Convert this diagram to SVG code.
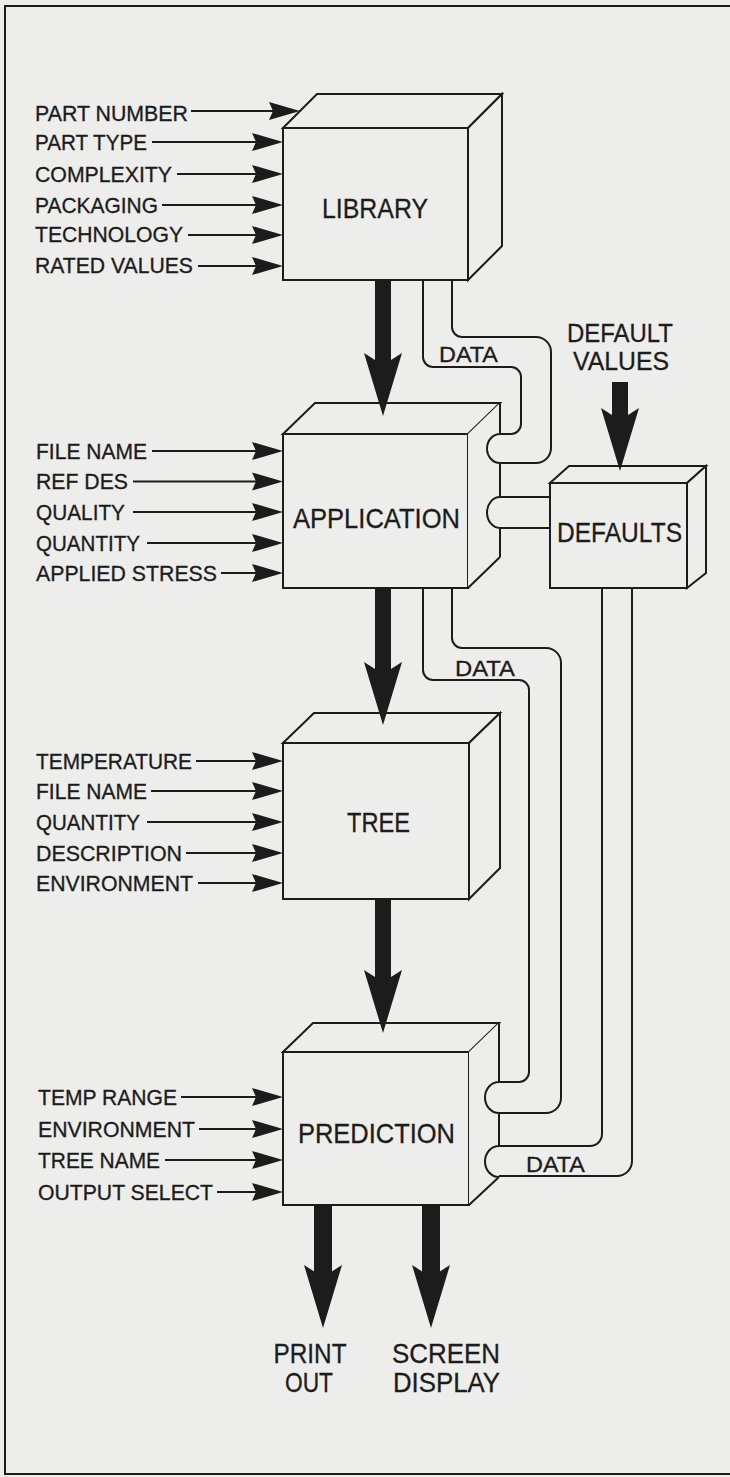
<svg xmlns="http://www.w3.org/2000/svg" xmlns:xlink="http://www.w3.org/1999/xlink" width="730" height="1477" viewBox="0 0 730 1477">
<style>
.bg{fill:#ededeb}
.face{fill:#ededeb;stroke:#1c1c1c;stroke-width:2;stroke-linejoin:miter}
.fill{fill:#ededeb;stroke:none}
.edge{fill:none;stroke:#1c1c1c;stroke-width:2}
.in{fill:none;stroke:#1c1c1c;stroke-width:1.8;marker-end:url(#ah)}
.pipe{fill:none;stroke:#1c1c1c;stroke-width:2}
.lbl{font-family:"Liberation Sans",Arial,sans-serif;font-size:21.2px;fill:#1c1c1c;stroke:#1c1c1c;stroke-width:0.3}
.big{font-family:"Liberation Sans",Arial,sans-serif;font-size:28px;fill:#1c1c1c;text-anchor:middle;stroke:#1c1c1c;stroke-width:0.3}
.two{font-size:26px}
.data{font-family:"Liberation Sans",Arial,sans-serif;font-size:22px;fill:#1c1c1c;stroke:#1c1c1c;stroke-width:0.3}
.thick{fill:#1c1c1c}
</style>
<defs>
<marker id="ah" markerUnits="userSpaceOnUse" viewBox="-32 -10 33 20" markerWidth="33" markerHeight="20" refX="-8" refY="0" orient="auto" overflow="visible">
<path d="M0,0 L-31,-9 L-27,0 L-31,9 Z" fill="#1c1c1c"/>
</marker>
<path id="bh" d="M-19,0 L-8,7 L8,7 L19,0 L0,63 Z"/>
</defs>
<rect class="bg" x="0" y="0" width="730" height="1477"/>
<path class="edge" d="M730,6 H5 V1474 H730"/>

<g id="node-library">
<rect class="face" x="283" y="128" width="185" height="152"/>
<polygon class="face" points="283,128 317,94 502,94 468,128"/>
<polygon class="face" points="468,128 502,94 502,246 468,280"/>
<text class="big" x="375" y="218" textLength="106" lengthAdjust="spacingAndGlyphs">LIBRARY</text>
</g>

<g id="node-application">
<rect class="face" x="283" y="434" width="185" height="154"/>
<polygon class="face" points="283,434 315,403 500,403 468,434"/>
<polygon class="fill" points="468,434 500,403 500,557 468,588"/>
<path class="edge" d="M468,588 L500,557 M500,403 V434 A13,14.5 0 0 0 500,463 V497 A13,15.5 0 0 0 500,528 V557"/>
<text class="big" x="376.5" y="528" textLength="167" lengthAdjust="spacingAndGlyphs">APPLICATION</text>
</g>

<g id="node-tree">
<rect class="face" x="283" y="743" width="186" height="156"/>
<polygon class="face" points="283,743 314,713 500,713 469,743"/>
<polygon class="face" points="469,743 500,713 500,868 469,899"/>
<text class="big" x="378.5" y="832" textLength="63" lengthAdjust="spacingAndGlyphs">TREE</text>
</g>

<g id="node-prediction">
<rect class="face" x="283" y="1052" width="186" height="153"/>
<polygon class="face" points="283,1052 313,1023 499,1023 469,1052"/>
<polygon class="fill" points="469,1052 499,1023 499,1177 469,1205"/>
<path class="edge" d="M469,1205 L499,1177 M499,1023 V1082 A14,15.5 0 0 0 499,1113 V1146 A14,15.5 0 0 0 499,1177"/>
<text class="big" x="376.5" y="1143" textLength="157" lengthAdjust="spacingAndGlyphs">PREDICTION</text>
</g>

<g id="node-defaults">
<rect class="face" x="550" y="483" width="137" height="105"/>
<polygon class="face" points="550,483 569,466 706,466 687,483"/>
<polygon class="face" points="687,483 706,466 706,573 687,588"/>
<text class="big" x="619.5" y="542" textLength="125" lengthAdjust="spacingAndGlyphs">DEFAULTS</text>
</g>

<g id="labels">
<text class="big two" x="620" y="342" textLength="106" lengthAdjust="spacingAndGlyphs">DEFAULT</text>
<text class="big two" x="621" y="370" textLength="96" lengthAdjust="spacingAndGlyphs">VALUES</text>
<text class="big" x="310" y="1363" textLength="73" lengthAdjust="spacingAndGlyphs">PRINT</text>
<text class="big" x="309" y="1392" textLength="48" lengthAdjust="spacingAndGlyphs">OUT</text>
<text class="big" x="446" y="1363" textLength="108" lengthAdjust="spacingAndGlyphs">SCREEN</text>
<text class="big" x="446.5" y="1392" textLength="107" lengthAdjust="spacingAndGlyphs">DISPLAY</text>

<text class="lbl" x="35" y="121" textLength="153" lengthAdjust="spacingAndGlyphs">PART NUMBER</text>
<text class="lbl" x="35" y="150" textLength="112" lengthAdjust="spacingAndGlyphs">PART TYPE</text>
<text class="lbl" x="35" y="182" textLength="137" lengthAdjust="spacingAndGlyphs">COMPLEXITY</text>
<text class="lbl" x="35" y="212.5" textLength="123" lengthAdjust="spacingAndGlyphs">PACKAGING</text>
<text class="lbl" x="35" y="241.5" textLength="148" lengthAdjust="spacingAndGlyphs">TECHNOLOGY</text>
<text class="lbl" x="35" y="273" textLength="158" lengthAdjust="spacingAndGlyphs">RATED VALUES</text>

<text class="lbl" x="36" y="458.5" textLength="111" lengthAdjust="spacingAndGlyphs">FILE NAME</text>
<text class="lbl" x="36" y="489" textLength="92" lengthAdjust="spacingAndGlyphs">REF DES</text>
<text class="lbl" x="36" y="519.5" textLength="89" lengthAdjust="spacingAndGlyphs">QUALITY</text>
<text class="lbl" x="36" y="550.5" textLength="104" lengthAdjust="spacingAndGlyphs">QUANTITY</text>
<text class="lbl" x="36" y="580.5" textLength="181" lengthAdjust="spacingAndGlyphs">APPLIED STRESS</text>

<text class="lbl" x="36" y="768.5" textLength="156" lengthAdjust="spacingAndGlyphs">TEMPERATURE</text>
<text class="lbl" x="36" y="798.5" textLength="111" lengthAdjust="spacingAndGlyphs">FILE NAME</text>
<text class="lbl" x="36" y="829.5" textLength="104" lengthAdjust="spacingAndGlyphs">QUANTITY</text>
<text class="lbl" x="36" y="860.5" textLength="146" lengthAdjust="spacingAndGlyphs">DESCRIPTION</text>
<text class="lbl" x="36" y="890.5" textLength="157" lengthAdjust="spacingAndGlyphs">ENVIRONMENT</text>

<text class="lbl" x="38" y="1104.5" textLength="139" lengthAdjust="spacingAndGlyphs">TEMP RANGE</text>
<text class="lbl" x="38" y="1136.5" textLength="157" lengthAdjust="spacingAndGlyphs">ENVIRONMENT</text>
<text class="lbl" x="38" y="1167.5" textLength="122" lengthAdjust="spacingAndGlyphs">TREE NAME</text>
<text class="lbl" x="38" y="1199.5" textLength="175" lengthAdjust="spacingAndGlyphs">OUTPUT SELECT</text>

<text class="data" x="439" y="362" textLength="59" lengthAdjust="spacingAndGlyphs">DATA</text>
<text class="data" x="455" y="676" textLength="60" lengthAdjust="spacingAndGlyphs">DATA</text>
<text class="data" x="526" y="1172" textLength="59" lengthAdjust="spacingAndGlyphs">DATA</text>
</g>

<g id="connectors">
<line class="in" x1="191" y1="111" x2="292" y2="111"/>
<line class="in" x1="152" y1="142" x2="275" y2="142"/>
<line class="in" x1="177" y1="174" x2="275" y2="174"/>
<line class="in" x1="162" y1="205" x2="275" y2="205"/>
<line class="in" x1="188" y1="235" x2="275" y2="235"/>
<line class="in" x1="198" y1="266" x2="275" y2="266"/>

<line class="in" x1="152" y1="451" x2="275" y2="451"/>
<line class="in" x1="133" y1="481.5" x2="275" y2="481.5"/>
<line class="in" x1="133" y1="512" x2="275" y2="512"/>
<line class="in" x1="147" y1="543" x2="275" y2="543"/>
<line class="in" x1="221" y1="573" x2="275" y2="573"/>

<line class="in" x1="196" y1="761" x2="275" y2="761"/>
<line class="in" x1="151" y1="791" x2="275" y2="791"/>
<line class="in" x1="147" y1="822" x2="275" y2="822"/>
<line class="in" x1="186" y1="853" x2="275" y2="853"/>
<line class="in" x1="198" y1="883" x2="275" y2="883"/>

<line class="in" x1="181" y1="1097" x2="275" y2="1097"/>
<line class="in" x1="199" y1="1129" x2="275" y2="1129"/>
<line class="in" x1="165" y1="1160" x2="275" y2="1160"/>
<line class="in" x1="217" y1="1192" x2="275" y2="1192"/>

<rect class="thick" x="375" y="279" width="16" height="82"/>
<use class="thick" xlink:href="#bh" href="#bh" transform="translate(383,353)"/>
<rect class="thick" x="375" y="587" width="16" height="83"/>
<use class="thick" xlink:href="#bh" href="#bh" transform="translate(383,662)"/>
<rect class="thick" x="375" y="898" width="16" height="80"/>
<use class="thick" xlink:href="#bh" href="#bh" transform="translate(383,970)"/>
<rect class="thick" x="612" y="382" width="16" height="34"/>
<use class="thick" xlink:href="#bh" href="#bh" transform="translate(620,408)"/>
<rect class="thick" x="314" y="1204" width="18" height="68"/>
<use class="thick" xlink:href="#bh" href="#bh" transform="translate(323,1265)"/>
<rect class="thick" x="422" y="1204" width="18" height="68"/>
<use class="thick" xlink:href="#bh" href="#bh" transform="translate(431,1265)"/>

<path class="pipe" d="M423,280 V357 A10,10 0 0 0 433,367 H511 A10,10 0 0 1 521,377 V424 A10,10 0 0 1 511,434 H500"/>
<path class="pipe" d="M452,280 V327 A10,10 0 0 0 462,337 H536 A15,15 0 0 1 551,352 V448 A15,15 0 0 1 536,463 H500"/>
<path class="pipe" d="M500,497 H550 M500,528 H550"/>
<path class="pipe" d="M423,588 V670 A10,10 0 0 0 433,680 H519 A10,10 0 0 1 529,690 V1072 A10,10 0 0 1 519,1082 H499"/>
<path class="pipe" d="M452,588 V638 A10,10 0 0 0 462,648 H546 A15,15 0 0 1 561,663 V1098 A15,15 0 0 1 546,1113 H499"/>
<path class="pipe" d="M602,588 V1134 A12,12 0 0 1 590,1146 H499"/>
<path class="pipe" d="M632,588 V1161 A15,15 0 0 1 617,1176 H499"/>
</g>
</svg>
